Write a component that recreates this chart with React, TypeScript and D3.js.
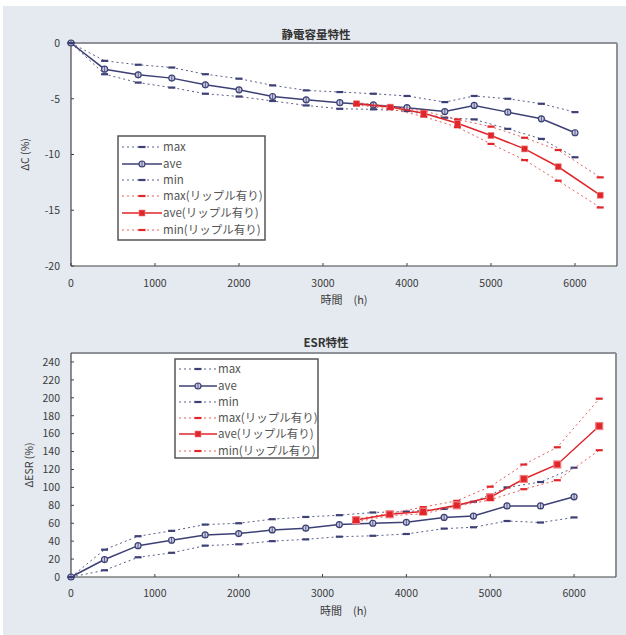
import React from "react";
import * as d3 from "d3";

const hoursBlue = [0, 400, 800, 1200, 1600, 2000, 2400, 2800, 3200, 3600, 4000, 4450, 4800, 5200, 5600, 6000];
const hoursRed = [3400, 3800, 4200, 4600, 5000, 5400, 5800, 6300];

const capMax = [0, -1.6, -1.95, -2.2, -2.8, -3.2, -3.8, -4.25, -4.4, -4.55, -4.75, -5.3, -4.75, -5.0, -5.45, -6.2];
const capAve = [0, -2.35, -2.85, -3.15, -3.75, -4.2, -4.8, -5.1, -5.35, -5.55, -5.8, -6.15, -5.6, -6.2, -6.8, -8.05];
const capMin = [0, -2.8, -3.55, -4.0, -4.55, -4.8, -5.2, -5.6, -5.9, -5.95, -6.1, -6.7, -6.85, -7.7, -8.6, -10.25];
const capRedMax = [-5.35, -5.65, -6.1, -6.85, -7.5, -8.5, -9.6, -12.05];
const capRedAve = [-5.45, -5.75, -6.3, -7.2, -8.3, -9.5, -11.1, -13.65];
const capRedMin = [-5.55, -5.9, -6.6, -7.55, -9.05, -10.5, -12.35, -14.75];

const esrMax = [0, 30.5, 45.5, 51.5, 58.5, 60, 64.5, 67, 69, 72, 73, 76, 84, 100, 106, 122];
const esrAve = [0, 19.5, 35, 41, 47, 48.5, 52.5, 54.5, 58.5, 60, 61, 66.5, 68, 79.3, 79.3, 89.5];
const esrMin = [0, 7.5, 22, 27, 35, 36.5, 40, 42, 45, 46, 48, 54, 55.5, 62.5, 60.8, 66.5];
const esrRedMax = [64.5, 71, 78, 85, 100.8, 125.5, 144.8, 199];
const esrRedAve = [63.5, 70, 73, 80, 89, 109.4, 125.6, 168.5];
const esrRedMin = [61.5, 68.5, 70.5, 79, 86, 98, 108, 141.5];

const xTicks = [0, 1000, 2000, 3000, 4000, 5000, 6000];
const capTicks = [0, -5, -10, -15, -20];
const esrTicks = [0, 20, 40, 60, 80, 100, 120, 140, 160, 180, 200, 220, 240];
const legendLabels = ["max", "ave", "min", "max(リップル有り)", "ave(リップル有り)", "min(リップル有り)"];

const NAVY = "#3c4074";
const NAVY_L = "#5a5e8a";
const RED = "#e0262b";
const RED_L = "#e85c5c";
const FONT = "'Noto Sans CJK JP', 'Noto Sans', sans-serif";
const TXT = "#3a3a3a";

type SeriesDef = { xs: number[]; ys: number[]; kind: "dash" | "circle" | "square"; color: string; solid: boolean };

function Marker({ kind, color, x, y, big }: { kind: string; color: string; x: number; y: number; big?: boolean }) {
  if (kind === "circle") {
    return (
      <g>
        <circle cx={x} cy={y} r={3} fill="#c9cce0" stroke={color} strokeWidth={1.2} />
        <line x1={x} x2={x} y1={y - 3} y2={y + 3} stroke={color} strokeWidth={0.8} />
      </g>
    );
  }
  if (kind === "square") {
    const s = big ? 7 : 6;
    return <rect x={x - s / 2} y={y - s / 2} width={s} height={s} fill={color} stroke="#f08080" strokeWidth={big ? 1.2 : 0.6} />;
  }
  return <rect x={x - 3.5} y={y - 1.1} width={7} height={2.2} fill={color} />;
}

function Chart(props: {
  top: number;
  bottom: number;
  left: number;
  right: number;
  yDomain: [number, number];
  yTicks: number[];
  series: SeriesDef[];
  title: string;
  titleX: number;
  titleY: number;
  yLabel: string;
  yLabelX: number;
  xLabelY: number;
  xTickY: number;
  legend: { x: number; y: number; w: number; h: number; rowY: number[]; symW: number; textX: number };
  bigSquare?: boolean;
}) {
  const { top, bottom, left, right } = props;
  const x = d3.scaleLinear().domain([0, 6500]).range([left, right]);
  const y = d3.scaleLinear().domain(props.yDomain).range([bottom, top]);
  const line = d3
    .line<[number, number]>()
    .x((d) => x(d[0]))
    .y((d) => y(d[1]));
  const lg = props.legend;
  return (
    <g>
      <rect x={left} y={top} width={right - left} height={bottom - top} fill="#ffffff" />
      <line x1={left} x2={right} y1={top} y2={top} stroke="#8f9298" strokeWidth={2} />
      <line x1={right} x2={right} y1={top} y2={bottom} stroke="#8f9298" strokeWidth={2} />
      <line x1={left} x2={left} y1={top} y2={bottom} stroke="#444" strokeWidth={1.2} />
      <line x1={left} x2={right} y1={bottom} y2={bottom} stroke="#444" strokeWidth={1.2} />
      {xTicks.map((t) => (
        <g key={"xt" + t}>
          <line x1={x(t)} x2={x(t)} y1={bottom} y2={bottom - 3} stroke="#444" />
          <text x={x(t)} y={props.xTickY} textAnchor="middle" fontSize={10.5} fill={TXT} fontFamily={FONT}>
            {t}
          </text>
        </g>
      ))}
      {props.yTicks.map((t) => (
        <g key={"yt" + t}>
          <line x1={left} x2={left + 3} y1={y(t)} y2={y(t)} stroke="#444" />
          <text x={left - 11} y={y(t) + 3.8} textAnchor="end" fontSize={10.5} fill={TXT} fontFamily={FONT}>
            {t}
          </text>
        </g>
      ))}
      {props.series.map((s, i) => {
        const pts = s.xs.map((h, j) => [h, s.ys[j]] as [number, number]);
        return (
          <g key={"s" + i}>
            <path
              d={line(pts) || ""}
              fill="none"
              stroke={s.solid ? s.color : s.color === NAVY ? NAVY_L : RED_L}
              strokeWidth={s.solid ? 1.5 : 1}
              strokeDasharray={s.solid ? undefined : "2,3"}
            />
            {pts.map((p, j) => (
              <Marker key={j} kind={s.kind} color={s.color} x={x(p[0])} y={y(p[1])} big={props.bigSquare} />
            ))}
          </g>
        );
      })}
      <rect x={lg.x} y={lg.y} width={lg.w} height={lg.h} fill="#ffffff" stroke="#555" strokeWidth={1.5} />
      {props.series.map((s, i) => {
        const ry = lg.rowY[i];
        const x1 = lg.x + 4;
        const x2 = lg.x + 4 + lg.symW;
        return (
          <g key={"lg" + i}>
            <line
              x1={x1}
              x2={x2}
              y1={ry}
              y2={ry}
              stroke={s.solid ? s.color : s.color === NAVY ? NAVY_L : RED_L}
              strokeWidth={s.solid ? 1.5 : 1}
              strokeDasharray={s.solid ? undefined : "2,3"}
            />
            <Marker kind={s.kind} color={s.color} x={(x1 + x2) / 2} y={ry} />
            <text x={lg.textX} y={ry + 4} fontSize={11.5} fill="#555" fontFamily={FONT}>
              {legendLabels[i]}
            </text>
          </g>
        );
      })}
      <text x={props.titleX} y={props.titleY} textAnchor="middle" fontSize={11.5} fontWeight={700} fill="#333" fontFamily={FONT}>
        {props.title}
      </text>
      <text
        transform={`translate(${props.yLabelX},${(top + bottom) / 2}) rotate(-90)`}
        textAnchor="middle"
        fontSize={10.5}
        fill={TXT}
        fontFamily={FONT}
      >
        {props.yLabel}
      </text>
      <text x={(left + right) / 2} y={props.xLabelY} textAnchor="middle" fontSize={11} fill={TXT} fontFamily={FONT}>
        時間　(h)
      </text>
    </g>
  );
}

export default function App() {
  const capSeries: SeriesDef[] = [
    { xs: hoursBlue, ys: capMax, kind: "dash", color: NAVY, solid: false },
    { xs: hoursBlue, ys: capAve, kind: "circle", color: NAVY, solid: true },
    { xs: hoursBlue, ys: capMin, kind: "dash", color: NAVY, solid: false },
    { xs: hoursRed, ys: capRedMax, kind: "dash", color: RED, solid: false },
    { xs: hoursRed, ys: capRedAve, kind: "square", color: RED, solid: true },
    { xs: hoursRed, ys: capRedMin, kind: "dash", color: RED, solid: false },
  ];
  const esrSeries: SeriesDef[] = [
    { xs: hoursBlue, ys: esrMax, kind: "dash", color: NAVY, solid: false },
    { xs: hoursBlue, ys: esrAve, kind: "circle", color: NAVY, solid: true },
    { xs: hoursBlue, ys: esrMin, kind: "dash", color: NAVY, solid: false },
    { xs: hoursRed, ys: esrRedMax, kind: "dash", color: RED, solid: false },
    { xs: hoursRed, ys: esrRedAve, kind: "square", color: RED, solid: true },
    { xs: hoursRed, ys: esrRedMin, kind: "dash", color: RED, solid: false },
  ];
  return (
    <svg width={626} height={635} style={{ position: "absolute", left: 0, top: 0 }}>
      <rect x={0} y={0} width={626} height={635} fill="#ffffff" />
      <rect x={3} y={6} width={623} height={629} fill="#e5eaf0" />
      <Chart
        top={43}
        bottom={266}
        left={71}
        right={617}
        yDomain={[-20, 0]}
        yTicks={capTicks}
        series={capSeries}
        title="静電容量特性"
        titleX={316}
        titleY={39}
        yLabel="ΔC  (%)"
        yLabelX={29}
        xLabelY={304}
        xTickY={287}
        legend={{ x: 118, y: 136, w: 147, h: 104, rowY: [147, 164, 180, 196, 213, 230], symW: 40, textX: 163 }}
      />
      <Chart
        top={353}
        bottom={577}
        left={71}
        right={616}
        yDomain={[0, 250]}
        yTicks={esrTicks}
        series={esrSeries}
        title="ESR特性"
        titleX={326}
        titleY={347}
        yLabel="ΔESR  (%)"
        yLabelX={33}
        xLabelY={615}
        xTickY={597}
        bigSquare
        legend={{ x: 175, y: 359, w: 143, h: 99, rowY: [369, 386, 402, 418, 434, 451], symW: 38, textX: 218 }}
      />
    </svg>
  );
}
